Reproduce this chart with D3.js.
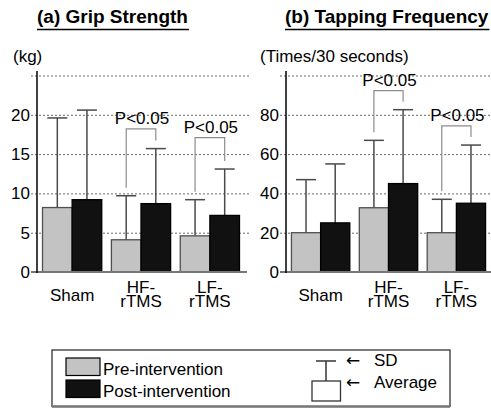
<!DOCTYPE html>
<html>
<head>
<meta charset="utf-8">
<script src="https://cdn.jsdelivr.net/npm/d3@7/dist/d3.min.js"></script>
<style>
  html, body { margin: 0; padding: 0; background: #fff; }
  svg { display: block; font-family: "Liberation Sans", Arial, sans-serif; }
</style>
</head>
<body>
<svg id="chart" width="491" height="408"></svg>
<script>
// ---------- data ----------
const categories = ["Sham", "HF-rTMS", "LF-rTMS"];
const categoryLines = [["Sham"], ["HF-", "rTMS"], ["LF-", "rTMS"]];
const seriesNames = ["Pre-intervention", "Post-intervention"];

const gripPre = [8.2, 4.1, 4.6];
const gripPost = [9.2, 8.7, 7.2];
const gripPreSD = [19.6, 9.7, 9.2];
const gripPostSD = [20.6, 15.7, 13.1];
const gripTicks = [0, 5, 10, 15, 20, 25];
const gripSig = ["HF-rTMS", "LF-rTMS"];
const gripSigTop = [18.2, 17.1];

const tapPre = [20, 32.7, 20];
const tapPost = [25, 45, 35];
const tapPreSD = [47, 67, 37];
const tapPostSD = [55, 82.6, 64.6];
const tapTicks = [0, 20, 40, 60, 80, 100];
const tapSig = ["HF-rTMS", "LF-rTMS"];
const tapSigTop = [92.3, 74.4];

const sigLabel = "P<0.05";

// ---------- styling ----------
const colors = { pre: "#c3c3c3", post: "#111111" };
const svg = d3.select("#chart");
const FS = 17;

function panel(opt) {
  const g = svg.append("g");
  const y = d3.scaleLinear().domain(opt.domain).range([272, 75.5]);
  const x0 = d3.scaleBand().domain(categories)
    .range([opt.axisX, opt.axisX + opt.width])
    .paddingInner(0.14).paddingOuter(0.08);
  const x1 = d3.scaleBand().domain(["pre", "post"]).range([0, x0.bandwidth()]);

  // gridlines + tick labels via axis
  const top = opt.ticks[opt.ticks.length - 1];
  const ax = d3.axisLeft(y).tickValues(opt.ticks)
    .tickSizeInner(-(opt.panelEnd - opt.axisX + 6)).tickSizeOuter(0).tickPadding(1)
    .tickFormat(d => d === top ? "" : d);
  const axg = g.append("g").attr("transform", `translate(${opt.axisX - 6},0)`).call(ax);
  axg.select(".domain").remove();
  axg.selectAll(".tick line")
    .attr("stroke", "#6a6a6a").attr("stroke-width", 1).attr("stroke-dasharray", "2,2")
    .filter(d => d === 0).remove();
  axg.selectAll(".tick text").attr("font-size", FS).attr("fill", "#000")
    .attr("font-family", "Liberation Sans, Arial, sans-serif");

  // title
  const tt = g.append("text").attr("x", opt.titleX).attr("y", 23).attr("font-size", 19)
    .attr("font-weight", "bold").text(opt.title);
  const tw = tt.node().getComputedTextLength();
  g.append("line").attr("x1", opt.titleX).attr("x2", opt.titleX + tw + 1)
    .attr("y1", 29.5).attr("y2", 29.5).attr("stroke", "#000").attr("stroke-width", 1.5);

  // unit
  g.append("text").attr("x", opt.unitX).attr("y", 61.5).attr("font-size", FS).text(opt.unit);

  // bars
  const rows = categories.map((c, i) => ({ c, pre: opt.pre[i], post: opt.post[i], preSD: opt.preSD[i], postSD: opt.postSD[i] }));
  const groups = g.selectAll(".grp").data(rows).join("g")
    .attr("transform", d => `translate(${x0(d.c)},0)`);

  // error bars
  [["pre", "preSD"], ["post", "postSD"]].forEach(([k, s]) => {
    groups.append("line")
      .attr("x1", x1(k) + x1.bandwidth() / 2).attr("x2", x1(k) + x1.bandwidth() / 2)
      .attr("y1", d => y(d[k])).attr("y2", d => y(d[s]))
      .attr("stroke", "#4a4a4a").attr("stroke-width", 1.5);
    groups.append("line")
      .attr("x1", x1(k) + x1.bandwidth() / 2 - 10).attr("x2", x1(k) + x1.bandwidth() / 2 + 10)
      .attr("y1", d => y(d[s])).attr("y2", d => y(d[s]))
      .attr("stroke", "#4a4a4a").attr("stroke-width", 1.5);
  });
  groups.append("rect").attr("x", x1("pre")).attr("width", x1.bandwidth())
    .attr("y", d => y(d.pre)).attr("height", d => y(0) - y(d.pre))
    .attr("fill", colors.pre).attr("stroke", "#505050").attr("stroke-width", 1.3);
  groups.append("rect").attr("x", x1("post")).attr("width", x1.bandwidth())
    .attr("y", d => y(d.post)).attr("height", d => y(0) - y(d.post))
    .attr("fill", colors.post).attr("stroke", "#000").attr("stroke-width", 1.3);

  // baseline and y axis
  g.append("line").attr("x1", opt.axisX - 6).attr("x2", opt.baseEnd).attr("y1", y(0)).attr("y2", y(0))
    .attr("stroke", "#777").attr("stroke-width", 2);
  g.append("line").attr("x1", opt.axisX).attr("x2", opt.axisX).attr("y1", 71).attr("y2", y(0) + 1)
    .attr("stroke", "#000").attr("stroke-width", 1.5);

  // significance brackets
  opt.sig.forEach((c, i) => {
    const r = rows[categories.indexOf(c)];
    const xl = x0(c) + x1("pre") + x1.bandwidth() / 2;
    const xr = x0(c) + x1("post") + x1.bandwidth() / 2;
    const yt = y(opt.sigTop[i]);
    g.append("path")
      .attr("d", `M${xl},${y(r.preSD) - 8}V${yt}H${xr}V${y(r.postSD) - 8}`)
      .attr("fill", "none").attr("stroke", "#8c8c8c").attr("stroke-width", 1.2);
    g.append("text").attr("x", (xl + xr) / 2 + 1).attr("y", yt - 5)
      .attr("text-anchor", "middle").attr("font-size", FS).text(sigLabel);
  });

  // category labels
  categories.forEach((c, i) => {
    const lines = categoryLines[i];
    const cx = x0(c) + x0.bandwidth() / 2;
    const t = g.append("text").attr("text-anchor", "middle").attr("font-size", FS);
    if (lines.length === 1) {
      t.append("tspan").attr("x", cx).attr("y", 300.5).text(lines[0]);
    } else {
      t.append("tspan").attr("x", cx).attr("y", 293.3).text(lines[0]);
      t.append("tspan").attr("x", cx).attr("y", 306.7).text(lines[1]);
    }
  });
}

panel({ domain: [0, 25], ticks: gripTicks, axisX: 37, width: 208, panelEnd: 250, baseEnd: 247,
  pre: gripPre, post: gripPost, preSD: gripPreSD, postSD: gripPostSD,
  sig: gripSig, sigTop: gripSigTop, title: "(a) Grip Strength", titleX: 37, unit: "(kg)", unitX: 13 });
panel({ domain: [0, 100], ticks: tapTicks, axisX: 286, width: 205, panelEnd: 491, baseEnd: 491,
  pre: tapPre, post: tapPost, preSD: tapPreSD, postSD: tapPostSD,
  sig: tapSig, sigTop: tapSigTop, title: "(b) Tapping Frequency", titleX: 285, unit: "(Times/30 seconds)", unitX: 260 });

// ---------- legend ----------
const lg = svg.append("g");
lg.append("rect").attr("x", 52).attr("y", 350).attr("width", 398).attr("height", 56.5)
  .attr("fill", "#fff").attr("stroke", "#222").attr("stroke-width", 1.2);
lg.append("line").attr("x1", 52).attr("x2", 450).attr("y1", 406.5).attr("y2", 406.5)
  .attr("stroke", "#777").attr("stroke-width", 2.5);
const swatchColors = [colors.pre, colors.post];
seriesNames.forEach((s, i) => {
  const yb = 374.5 + i * 22;
  lg.append("rect").attr("x", 66).attr("y", yb - 16.5).attr("width", 34).attr("height", 17.5)
    .attr("fill", swatchColors[i]).attr("stroke", "#000").attr("stroke-width", 1.2);
  lg.append("text").attr("x", 103).attr("y", yb).attr("font-size", FS).text(s);
});
// SD / Average key
lg.append("line").attr("x1", 316).attr("x2", 336).attr("y1", 361).attr("y2", 361).attr("stroke", "#333").attr("stroke-width", 1.5);
lg.append("line").attr("x1", 326).attr("x2", 326).attr("y1", 361).attr("y2", 381).attr("stroke", "#333").attr("stroke-width", 1.5);
lg.append("rect").attr("x", 312).attr("y", 381).attr("width", 28.5).attr("height", 20)
  .attr("fill", "#fff").attr("stroke", "#333").attr("stroke-width", 1.3);
lg.append("text").attr("x", 346).attr("y", 366).attr("font-size", FS).attr("font-family", "DejaVu Sans").text("←");
lg.append("text").attr("x", 374).attr("y", 366).attr("font-size", FS).text("SD");
lg.append("text").attr("x", 346).attr("y", 388).attr("font-size", FS).attr("font-family", "DejaVu Sans").text("←");
lg.append("text").attr("x", 374).attr("y", 388).attr("font-size", FS).text("Average");
</script>
</body>
</html>
